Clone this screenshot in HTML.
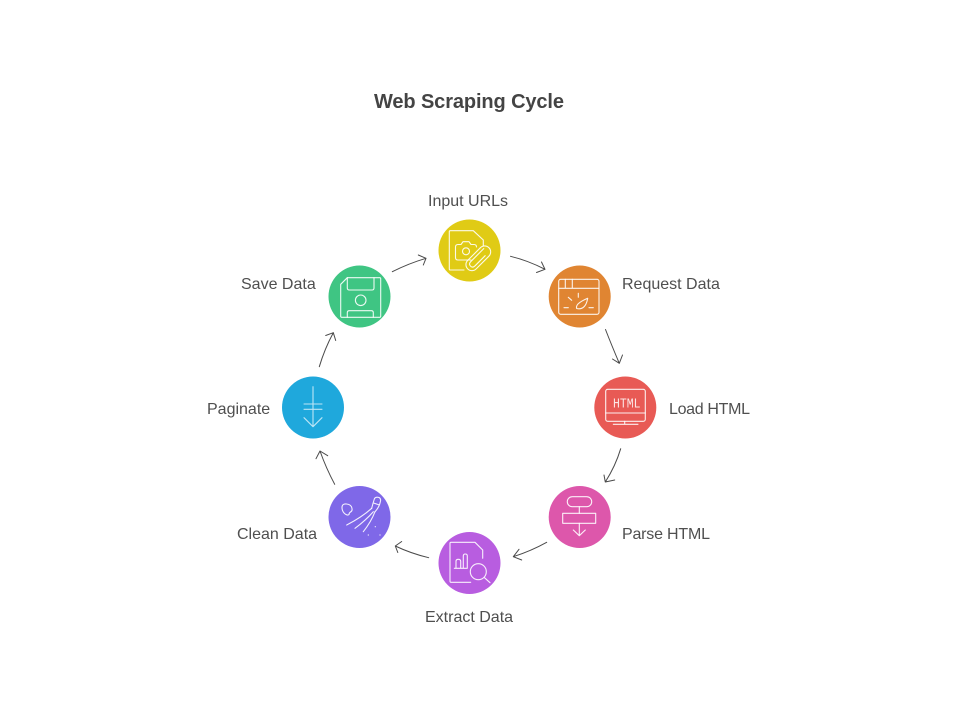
<!DOCTYPE html>
<html><head><meta charset="utf-8"><style>
html,body{margin:0;padding:0;background:#fff;width:960px;height:720px;overflow:hidden}
svg{display:block}
text{font-family:"Liberation Sans",sans-serif;font-size:16px;fill:#4f4f4f}
.a{fill:none;stroke:#4a4a4a;stroke-width:1;stroke-linecap:round;stroke-linejoin:round}
.i{fill:none;stroke:#fff;stroke-width:1.1;stroke-linecap:round;stroke-linejoin:round;stroke-opacity:.9}
</style></head><body>
<svg width="960" height="720" viewBox="0 0 960 720" xmlns="http://www.w3.org/2000/svg">
<text x="374" y="108" textLength="190" style="font-size:20px;font-weight:bold;fill:#444">Web Scraping Cycle</text>

<g>
<circle cx="469.5" cy="250.5" r="31" fill="#e0cb15"/>
<circle cx="579.7" cy="296.5" r="31" fill="#e08532"/>
<circle cx="625.3" cy="407.5" r="31" fill="#e85a55"/>
<circle cx="579.7" cy="517" r="31" fill="#dd57ab"/>
<circle cx="469.5" cy="563" r="31" fill="#b85de0"/>
<circle cx="359.5" cy="517" r="31" fill="#7f68e8"/>
<circle cx="313" cy="407.5" r="31" fill="#1fa8dc"/>
<circle cx="359.5" cy="296.5" r="31" fill="#3fc583"/>
</g>

<!-- connectors -->
<g class="a">
<path d="M510.500 256.300Q528 260.500 545 269.300M541.500 262L545 269.300L536.500 272.500"/>
<path d="M605.500 329.500Q611.500 345 619.300 363.300M612.500 359L619.300 363.300L622.500 355"/>
<path d="M620.700 448.700Q615.500 466 605.300 482M614.700 480L605.300 482L604 475"/>
<path d="M546.700 542.300Q531 551 513.300 556.700M521.700 560L513.300 556.700L519 549.300"/>
<path d="M428.700 557.700Q411 553.500 395.300 546M401.700 541.500L395.300 546L397.800 552.500"/>
<path d="M334.700 484.300Q326 468 320 451M316 458.700L320 451L327.700 455.700"/>
<path d="M319.300 366.700Q324.500 349 333.300 332.700M325.700 335.500L333.300 332.700L335.700 340.500"/>
<path d="M392.300 271.700Q408.500 263.500 426 258.300M418.300 255L426 258.300L423.300 265"/>
</g>

<!-- yellow icon -->
<g class="i">
<path d="M464 270H450.300Q449.300 270 449.300 269V231.700Q449.300 230.700 450.300 230.700H473.300L483.300 240V245.700"/>
<path d="M471 260H458Q455.500 260 455.500 257.500V247Q455.500 244.500 458 244.500H461L463 241.700H469L471 244.500H474Q476.500 244.500 476.500 247"/>
<circle cx="466" cy="251.300" r="3.500"/>
<g transform="rotate(-45 478.300 258.300)"><rect x="463.300" y="252.300" width="30" height="12" rx="6"/><path d="M489 255.300H470.500Q467.300 255.300 467.300 258.300T470.500 261.300H485"/></g>
</g>

<!-- orange icon -->
<g class="i">
<rect x="558.700" y="279.300" width="40.300" height="35" rx="2"/>
<path d="M558.700 288.300H599M565.300 279.300V288.300M572.300 279.300V288.300"/>
<path d="M578.300 293.300V297.300M568.300 297.300L571.700 300.300M564 307.700H568.300M589 307.700H593.300"/>
<path d="M576.700 308.500Q574.800 303.800 587.700 298.300Q585.500 310.500 576.700 308.500Z"/>
</g>

<!-- red icon -->
<g class="i">
<rect x="605.700" y="389.300" width="39.600" height="32" rx="2"/>
<path d="M605.700 413H645.300M624.700 421.300V424.300M613.300 424.300H638"/>
</g>
<text x="613" y="407.500" textLength="27.500" lengthAdjust="spacingAndGlyphs" style="font-family:'Liberation Mono',monospace;font-size:14px;fill:#fff;fill-opacity:.85">HTML</text>

<!-- pink icon -->
<g class="i">
<rect x="567.300" y="496.700" width="24.400" height="10" rx="5"/>
<rect x="562.700" y="513.300" width="33" height="10"/>
<path d="M579.300 506.700V513.300M579.300 523.300V535.700M573.300 530L579.300 535.700L585.300 530"/>
</g>

<!-- purple icon -->
<g class="i">
<path d="M470.700 582.300H451Q450 582.300 450 581.300V543.300Q450 542.300 451 542.300H475L482.700 550V558.300"/>
<path d="M454.300 568.300H467.300M456 568.300V561.300Q456 559.300 458.300 559.300T460.700 561.300V568.300M463.300 568.300V556Q463.300 554 465.300 554T467.300 556V568.300"/>
<circle cx="478.300" cy="571.700" r="8"/>
<path d="M484.500 577.700L490 582.700"/>
</g>

<!-- violet icon -->
<g class="i">
<path d="M342 507.500Q342 503.500 346.500 504Q351.500 504.500 352 508.500Q352.500 511 350.500 512Q349 513 349 514.500Q347.500 516 344.500 513.500Q342 511 342 507.500Z"/>
<path d="M346.700 525Q362 517 371.700 508.300M355 528.300Q366 520 373.300 511.700M363.300 531.700Q371 522 375 511.700"/>
<path d="M371.700 508.300Q373 503 374.500 498.500Q376 496.500 379 497.500Q381 498.500 380.500 501Q379.500 507 375 511.700M373.500 503L379.500 505"/>
<circle cx="375.300" cy="526.700" r=".6" style="fill:#fff;stroke:none"/>
<circle cx="368.300" cy="535" r=".6" style="fill:#fff;stroke:none"/>
<circle cx="380" cy="535" r=".6" style="fill:#fff;stroke:none"/>
</g>

<!-- blue icon -->
<g class="i" style="stroke-opacity:.7">
<path d="M313 386.700V426.700M304 404H322M304 409.300H322M304 417.700L313 426.700L322 417.700"/>
</g>

<!-- green icon -->
<g class="i">
<path d="M347.300 277.700H379.700Q380.700 277.700 380.700 278.700V316.300Q380.700 317.300 379.700 317.300H341.700Q340.700 317.300 340.700 316.300V284.300Z"/>
<path d="M347.300 277.700V288Q347.300 290 349.300 290H372Q374 290 374 288V277.700"/>
<path d="M347.300 317.300V312.700Q347.300 310.700 349.300 310.700H371.300Q373.300 310.700 373.300 312.700V317.300"/>
<circle cx="360.700" cy="300.300" r="5.300"/>
</g>

<!-- labels -->
<text x="428" y="206">Input URLs</text>
<text x="622" y="289">Request Data</text>
<text x="669" y="414" textLength="81">Load HTML</text>
<text x="622" y="539" textLength="88">Parse HTML</text>
<text x="425" y="622">Extract Data</text>
<text x="237" y="539">Clean Data</text>
<text x="207" y="414">Paginate</text>
<text x="241" y="289">Save Data</text>
</svg>
</body></html>
